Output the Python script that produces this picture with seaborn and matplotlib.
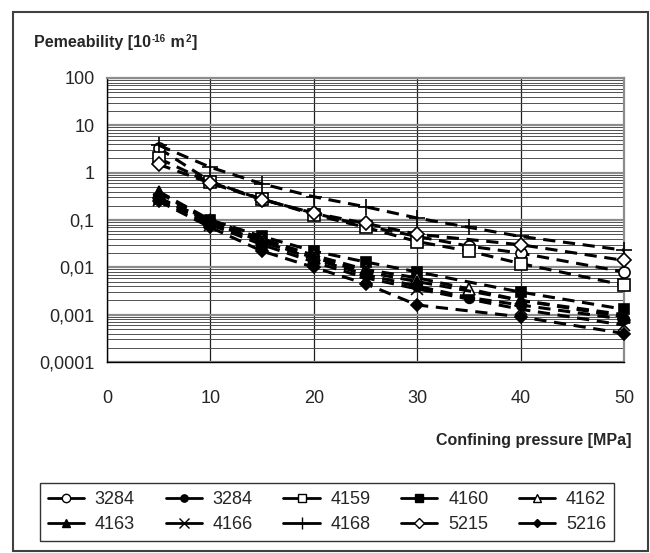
import matplotlib
matplotlib.use("Agg")
import matplotlib.pyplot as plt
import matplotlib.patches as mpatches
from matplotlib.lines import Line2D
import seaborn as sns
import numpy as np
import pandas as pd

sns.set_theme(style="white")
plt.rcParams['font.family'] = ['Liberation Sans', 'DejaVu Sans']

# ---- data ----
x9 = [5, 10, 15, 20, 25, 30, 35, 40, 50]
x8 = [5, 10, 15, 20, 25, 30, 40, 50]

labels = ["3284", "3284", "4159", "4160", "4162", "4163", "4166", "4168", "5215", "5216"]
xs = [x9, x9, x9, x8, x9, x8, x8, x9, x8, x8]
s3284_open = [3.3, 0.65, 0.27, 0.14, 0.075, 0.045, 0.028, 0.02, 0.008]
s3284_fill = [0.3, 0.09, 0.035, 0.015, 0.007, 0.004, 0.0023, 0.0016, 0.0008]
s4159 = [2.0, 0.62, 0.28, 0.13, 0.07, 0.035, 0.022, 0.012, 0.0042]
s4160 = [0.28, 0.10, 0.045, 0.022, 0.013, 0.008, 0.003, 0.0013]
s4162 = [0.40, 0.10, 0.04, 0.018, 0.009, 0.006, 0.0035, 0.002, 0.001]
s4163 = [0.38, 0.09, 0.035, 0.016, 0.008, 0.005, 0.002, 0.0009]
s4166 = [0.27, 0.08, 0.03, 0.013, 0.006, 0.0035, 0.0013, 0.0006]
s4168 = [3.8, 1.3, 0.58, 0.31, 0.19, 0.11, 0.07, 0.045, 0.023]
s5215 = [1.5, 0.60, 0.27, 0.14, 0.085, 0.05, 0.03, 0.014]
s5216 = [0.25, 0.07, 0.022, 0.010, 0.0045, 0.0016, 0.0009, 0.0004]
ys = [s3284_open, s3284_fill, s4159, s4160, s4162, s4163, s4166, s4168, s5215, s5216]

yticks = [100, 10, 1, 0.1, 0.01, 0.001, 0.0001]
ytick_labels = ["100", "10", "1", "0,1", "0,01", "0,001", "0,0001"]
xticks = [0, 10, 20, 30, 40, 50]

# ---- styles ----
markers = ['o', 'o', 's', 's', '^', '^', 'x', '+', 'D', 'D']
faces = ['white', 'black', 'white', 'black', 'white', 'black', 'black', 'black', 'white', 'black']
msizes = [8, 7, 8, 7, 8, 8, 9, 12, 7, 6]

fig = plt.figure(figsize=(6.5, 5.53), dpi=100)
ax = fig.add_axes([107/650, 1-362/553, (624-107)/650, (362-78)/553])

for lab, x, y, m, fc, ms in zip(labels, xs, ys, markers, faces, msizes):
    df = pd.DataFrame({"x": x, "y": y})
    sns.lineplot(data=df, x="x", y="y", ax=ax, color="black", linewidth=2.2,
                 linestyle=(0, (4, 2.5)), marker=m, markersize=ms,
                 markerfacecolor=fc, markeredgecolor="black", markeredgewidth=1.2,
                 legend=False, zorder=3)
for ln in ax.lines:
    ln.set_clip_on(False)

ax.set_yscale("log")
ax.set_ylim(0.0001, 100)
ax.set_xlim(0, 50)
ax.set_yticks(yticks)
ax.set_yticklabels(ytick_labels)
ax.set_xticks(xticks)
ax.yaxis.set_minor_locator(matplotlib.ticker.LogLocator(base=10, subs=np.arange(2, 10)))
ax.yaxis.set_minor_formatter(matplotlib.ticker.NullFormatter())
ax.tick_params(axis='y', which='minor', length=0)
ax.tick_params(axis='both', which='major', labelsize=13, length=4, direction='out',
               color='black', pad=5)
ax.tick_params(axis='x', pad=16)
ax.grid(True, which='major', axis='y', color='#8c8c8c', linewidth=1.6, zorder=0)
ax.grid(True, which='minor', axis='y', color='#505050', linewidth=0.7, zorder=0)
ax.grid(True, which='major', axis='x', color='#202020', linewidth=0.9, zorder=0)
ax.set_axisbelow(True)
for side in ['top', 'right']:
    ax.spines[side].set_color('#8c8c8c')
    ax.spines[side].set_linewidth(1.6)
for side in ['left', 'bottom']:
    ax.spines[side].set_color('black')
    ax.spines[side].set_linewidth(1.0)
ax.set_xlabel("")
ax.set_ylabel("")

# y-axis title with small superscripts
t1 = fig.text(34/650, 1-47/553, "Pemeability [10", fontsize=11.5,
              fontweight='bold', ha='left', va='baseline')
t2 = fig.text(0, 0, "-16", fontsize=7, fontweight='bold', ha='left', va='baseline')
t3 = fig.text(0, 0, " m", fontsize=11.5, fontweight='bold', ha='left', va='baseline')
t4 = fig.text(0, 0, "2", fontsize=7, fontweight='bold', ha='left', va='baseline')
t5 = fig.text(0, 0, "]", fontsize=11.5, fontweight='bold', ha='left', va='baseline')
r = fig.canvas.get_renderer()
def place_after(prev, cur, dy):
    bb = prev.get_window_extent(renderer=r)
    x0, y0 = prev.get_position()
    base_y = fig.transFigure.transform((x0, y0))[1]
    cur.set_position(fig.transFigure.inverted().transform((bb.x1 + 0.5, base_y + dy)))
place_after(t1, t2, 5)
place_after(t2, t3, -5)
place_after(t3, t4, 5)
place_after(t4, t5, -5)

fig.text(632/650, 1-440/553, "Confining pressure [MPa]", fontsize=11.5,
         fontweight='bold', ha='right', va='center')

# legend (row-wise order)
handles = []
for lab, m, fc, ms in zip(labels, markers, faces, msizes):
    handles.append(Line2D([0], [0], color='black', linewidth=2.0, marker=m,
                          markersize=ms*0.75, markerfacecolor=fc, markeredgecolor='black',
                          markeredgewidth=1.0, label=lab))
ncol = 5
order = [r_ * ncol + c for c in range(ncol) for r_ in range(2)]
handles = [handles[i] for i in order]
leg = fig.legend(handles=handles, ncol=ncol, loc='center',
                 bbox_to_anchor=(327/650, 1-512/553), frameon=True, fontsize=13,
                 handlelength=2.0, columnspacing=1.7, handletextpad=0.6,
                 borderpad=0.45, labelspacing=0.45, fancybox=False, edgecolor='black')
leg.get_frame().set_linewidth(1.0)

# outer border
fig.patches.append(mpatches.Rectangle((13/650, 2/553), (648-13)/650, (541-2)/553,
                   transform=fig.transFigure, fill=False, edgecolor='#404040', linewidth=1.5))

fig.savefig("out.png", dpi=100)
